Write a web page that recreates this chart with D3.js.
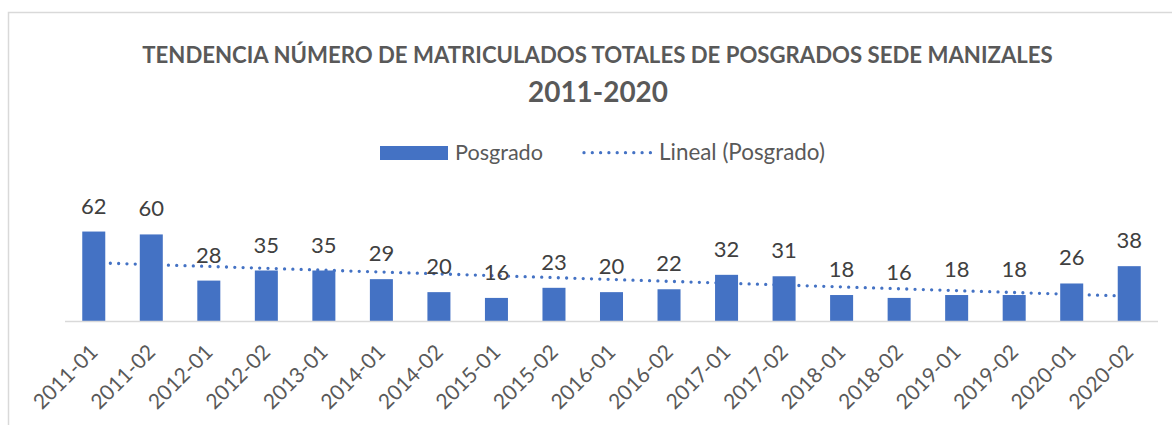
<!DOCTYPE html>
<html>
<head>
<meta charset="utf-8">
<script src="https://cdn.jsdelivr.net/npm/d3@7"></script>
<style>
    body { margin: 0; background: #fff; }
    text { font-family: Lato, "Open Sans", sans-serif; }
</style>
</head>
<body>
<div id="chart"></div>
<script>
// semesters and enrolled postgraduate students
var periods = ["2011-01", "2011-02", "2012-01", "2012-02", "2013-01", "2014-01", "2014-02",
    "2015-01", "2015-02", "2016-01", "2016-02", "2017-01", "2017-02", "2018-01", "2018-02",
    "2019-01", "2019-02", "2020-01", "2020-02"];
var posgrado = [62, 60, 28, 35, 35, 29, 20, 16, 23, 20, 22, 32, 31, 18, 16, 18, 18, 26, 38];
var legendNames = ["Posgrado", "Lineal (Posgrado)"];
var titleLines = ["TENDENCIA NÚMERO DE MATRICULADOS TOTALES DE POSGRADOS SEDE MANIZALES", "2011-2020"];

var width = 1172, height = 425;
var barColor = "#4472C4";

var data = periods.map(function (p, i) {
    return {period: p, value: posgrado[i]};
});

var svg = d3.select("#chart").append("svg")
    .attr("width", width)
    .attr("height", height);

// chart frame (runs off the bottom/right of the picture)
svg.append("rect")
    .attr("x", 8.5)
    .attr("y", 12.5)
    .attr("width", 1300)
    .attr("height", 600)
    .attr("fill", "none")
    .attr("stroke", "#d9d9d9")
    .attr("stroke-width", 1.5);

var x = d3.scaleBand()
    .domain(periods)
    .range([65, 1158])
    .paddingInner(0.6)
    .paddingOuter(0.3);

var y = d3.scaleLinear()
    .domain([0, 70])
    .range([321, 220]);

// shrink/grow a text so it spans the wanted width
function fit(sel, target) {
    var size = parseFloat(sel.attr("font-size"));
    var w = sel.node().getComputedTextLength();
    sel.attr("font-size", size * target / w);
}

// titles
var t1 = svg.append("text")
    .attr("x", 597.5)
    .attr("y", 63.3)
    .attr("text-anchor", "middle")
    .attr("font-weight", "bold")
    .attr("font-size", 20)
    .attr("fill", "#595959")
    .text(titleLines[0]);
fit(t1, 911);

var t2 = svg.append("text")
    .attr("x", 598)
    .attr("y", 102)
    .attr("text-anchor", "middle")
    .attr("font-weight", "bold")
    .attr("font-size", 28)
    .attr("fill", "#595959")
    .text(titleLines[1]);
fit(t2, 140);

// legend
var legend = svg.append("g").attr("class", "legend");
legend.append("rect")
    .attr("x", 380)
    .attr("y", 146)
    .attr("width", 68)
    .attr("height", 14)
    .attr("fill", barColor);
var l1 = legend.append("text")
    .attr("x", 455)
    .attr("y", 159.5)
    .attr("font-size", 20)
    .attr("fill", "#595959")
    .text(legendNames[0]);
fit(l1, 88);
legend.append("line")
    .attr("x1", 584)
    .attr("x2", 652)
    .attr("y1", 152.7)
    .attr("y2", 152.7)
    .attr("stroke", barColor)
    .attr("stroke-width", 3.3)
    .attr("stroke-linecap", "round")
    .attr("stroke-dasharray", "0,8.3");
var l2 = legend.append("text")
    .attr("x", 659)
    .attr("y", 159.5)
    .attr("font-size", 20)
    .attr("fill", "#595959")
    .text(legendNames[1]);
fit(l2, 166);

// linear trend (least squares over the semester index)
var meanX = d3.mean(data, function (d, i) { return i; });
var meanY = d3.mean(data, function (d) { return d.value; });
var slope = d3.sum(data, function (d, i) { return (i - meanX) * (d.value - meanY); }) /
    d3.sum(data, function (d, i) { return (i - meanX) * (i - meanX); });
var intercept = meanY - slope * meanX;

var trend = d3.line()
    .x(function (d) { return x(d.period) + x.bandwidth() / 2; })
    .y(function (d, i) { return y(intercept + slope * i); });

svg.append("path")
    .datum(data)
    .attr("class", "trend")
    .attr("d", trend)
    .attr("fill", "none")
    .attr("stroke", barColor)
    .attr("stroke-width", 3.3)
    .attr("stroke-linecap", "round")
    .attr("stroke-dasharray", "0,8.3");

// bars
svg.selectAll(".bar")
    .data(data)
    .enter().append("rect")
    .attr("class", "bar")
    .attr("x", function (d) { return x(d.period); })
    .attr("width", x.bandwidth())
    .attr("y", function (d) { return y(d.value); })
    .attr("height", function (d) { return y(0) - y(d.value); })
    .attr("fill", barColor);

// axis line
svg.append("line")
    .attr("x1", 65)
    .attr("x2", 1158)
    .attr("y1", y(0) + 0.5)
    .attr("y2", y(0) + 0.5)
    .attr("stroke", "#d9d9d9")
    .attr("stroke-width", 1.5);

// value labels
svg.selectAll(".value")
    .data(data)
    .enter().append("text")
    .attr("class", "value")
    .attr("x", function (d) { return x(d.period) + x.bandwidth() / 2; })
    .attr("y", function (d) { return y(d.value) - 18; })
    .attr("text-anchor", "middle")
    .attr("font-size", 22)
    .attr("fill", "#404040")
    .text(function (d) { return d.value; });

// category labels, rotated
svg.selectAll(".tick-label")
    .data(periods)
    .enter().append("text")
    .attr("class", "tick-label")
    .attr("transform", function (d) {
        return "translate(" + (x(d) + x.bandwidth() / 2) + ",348) rotate(-45)";
    })
    .attr("dy", "0.36em")
    .attr("text-anchor", "end")
    .attr("font-size", 21)
    .attr("fill", "#595959")
    .text(function (d) { return d; });
</script>
</body>
</html>
